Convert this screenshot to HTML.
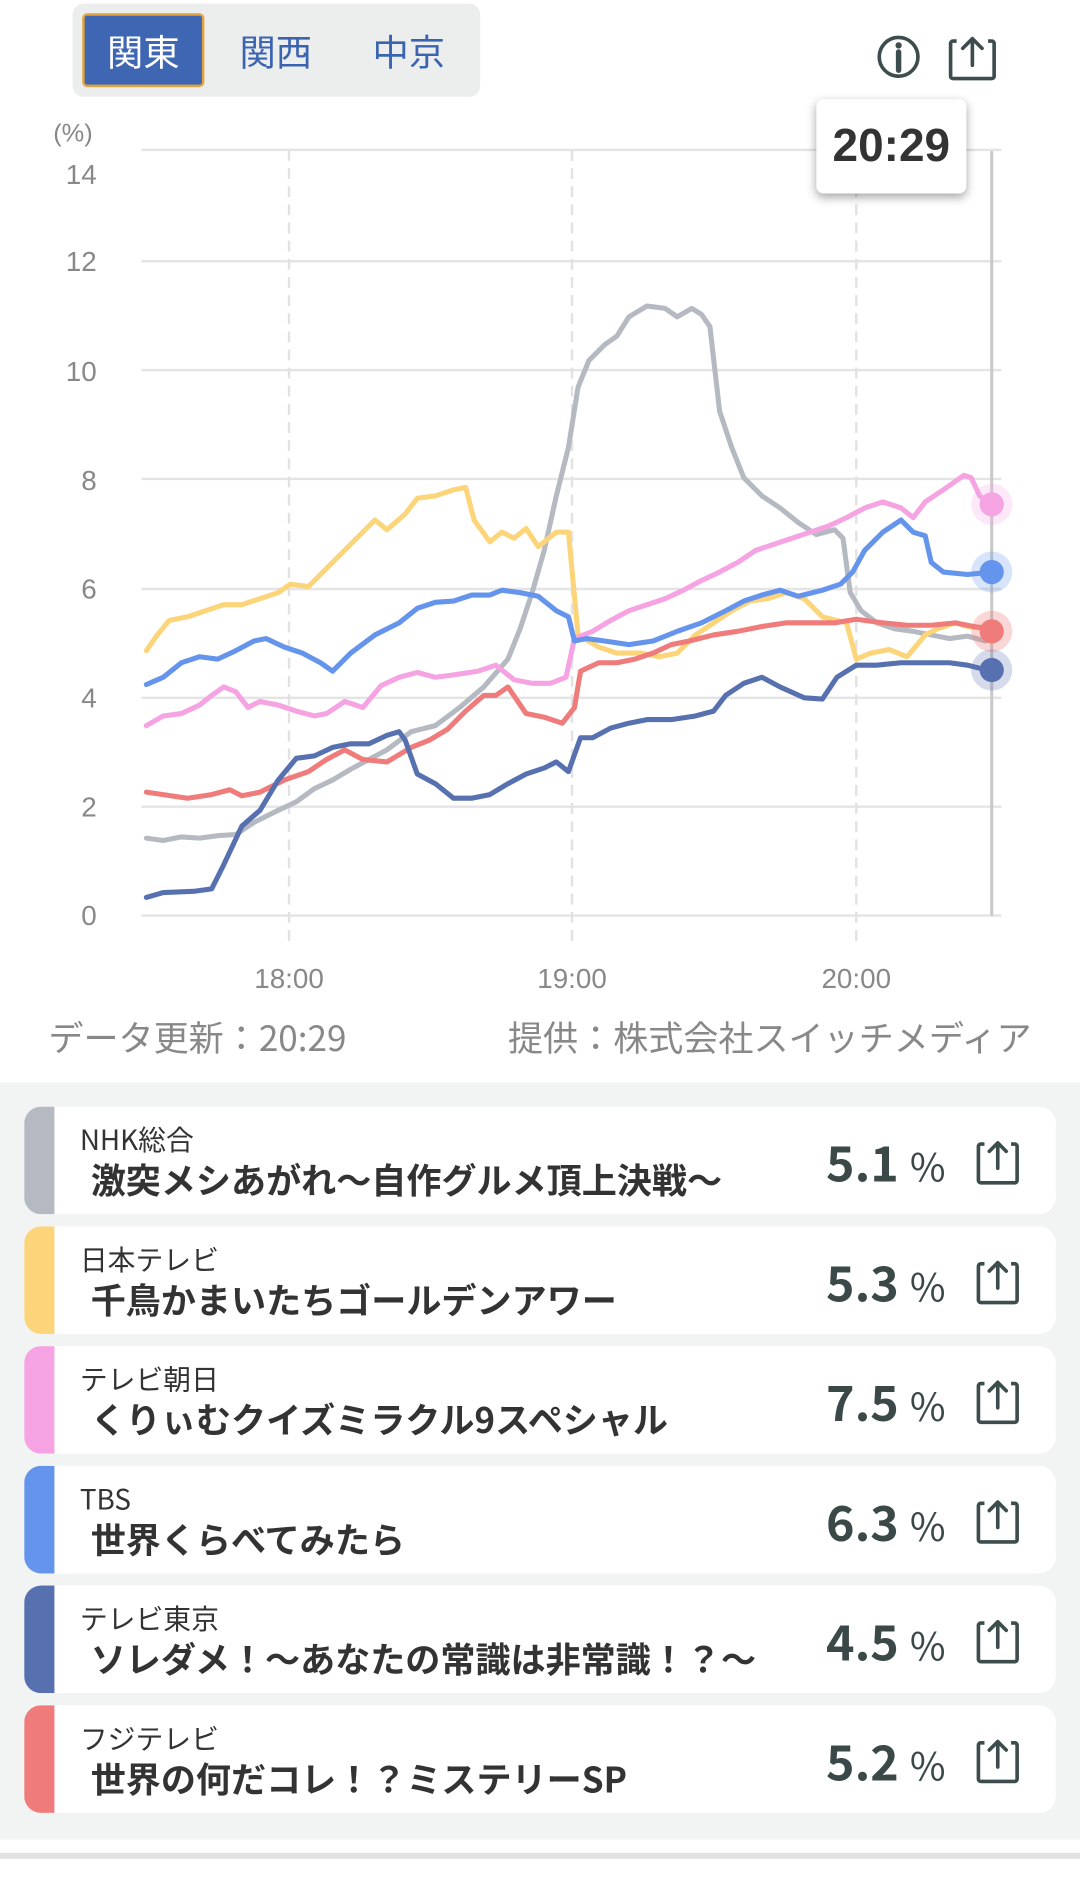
<!DOCTYPE html>
<html><head><meta charset="utf-8">
<style>
*{margin:0;padding:0;box-sizing:border-box}
html,body{width:1080px;height:1896px;overflow:hidden;background:#fff}
#w{position:absolute;left:0;top:0;width:893px;height:1568px;transform:scale(1.20941);transform-origin:0 0;font-family:"Liberation Sans","Noto Sans CJK JP",sans-serif}
.a{position:absolute;white-space:nowrap}
.tabs{left:60px;top:3px;width:337px;height:77px;background:#eceeee;border-radius:9px}
.act{left:68px;top:11px;width:101px;height:61px;background:#3e66b3;border:2px solid #e3a23a;border-radius:4px;color:#fff;font-size:30px;line-height:57px;text-align:center;font-family:"Noto Sans CJK JP",sans-serif}
.tb{top:11px;height:61px;line-height:61px;font-size:30px;color:#3b64b0;width:100px;text-align:center;font-family:"Noto Sans CJK JP",sans-serif}
.yl{left:20px;width:60px;text-align:right;font-size:23px;color:#888;line-height:24px}
.xl{font-size:23px;color:#888;width:100px;text-align:center;line-height:24px}
.ft{font-size:29px;color:#888;line-height:34px;font-family:"Noto Sans CJK JP",sans-serif}
.card{left:20px;width:853px;height:89px;background:#fff;border-radius:14px;overflow:hidden}
.bar{position:absolute;left:0;top:0;width:25px;height:100%}
.ch{position:absolute;left:46px;top:12px;font-size:23px;color:#333;line-height:28px;font-family:"Noto Sans CJK JP",sans-serif}
.ti{position:absolute;left:55px;top:42px;font-size:29px;font-weight:bold;color:#333;line-height:36px;font-family:"Noto Sans CJK JP",sans-serif}
.val{position:absolute;left:663px;top:22px;font-size:40px;font-weight:bold;color:#3b4848;line-height:46px;font-family:"Noto Sans CJK JP",sans-serif}
.val span{font-size:32px;font-weight:normal}
.sh{position:absolute;left:785px;top:27px}
</style></head><body>
<div id="w">
<div class="a tabs"></div>
<div class="a act">関東</div>
<div class="a tb" style="left:178px">関西</div>
<div class="a tb" style="left:288px">中京</div>
<svg class="a" style="left:0;top:0" width="893" height="1568">
<circle cx="743" cy="47" r="16" fill="none" stroke="#3d4c4c" stroke-width="3"/>
<circle cx="743" cy="37.5" r="2.6" fill="#3d4c4c"/>
<line x1="743" y1="43" x2="743" y2="58" stroke="#3d4c4c" stroke-width="4.5" stroke-linecap="round"/>
<path d="M791 34 h-3 a2 2 0 0 0 -2 2 v27 a2 2 0 0 0 2 2 h32 a2 2 0 0 0 2 -2 v-27 a2 2 0 0 0 -2 -2 h-3" fill="none" stroke="#3d4c4c" stroke-width="3"/>
<path d="M804 54 V32 M796 40 L804 32 L812 40" fill="none" stroke="#3d4c4c" stroke-width="3" stroke-linecap="round" stroke-linejoin="round"/>
<g stroke="#e4e4e4" stroke-width="2">
<line x1="117" y1="124" x2="828" y2="124"/><line x1="117" y1="216" x2="828" y2="216"/>
<line x1="117" y1="306" x2="828" y2="306"/><line x1="117" y1="396" x2="828" y2="396"/>
<line x1="117" y1="487" x2="828" y2="487"/><line x1="117" y1="577" x2="828" y2="577"/>
<line x1="117" y1="667" x2="828" y2="667"/><line x1="117" y1="757" x2="828" y2="757"/>
</g>
<g stroke="#e2e2e2" stroke-width="2" stroke-dasharray="9,6">
<line x1="239" y1="124" x2="239" y2="780"/><line x1="473" y1="124" x2="473" y2="780"/><line x1="708" y1="124" x2="708" y2="780"/>
</g>
<line x1="820" y1="125" x2="820" y2="757" stroke="#c8c8c8" stroke-width="2.5"/>
<g fill="none" stroke-width="4.2" stroke-linejoin="round" stroke-linecap="round">
<polyline stroke="#b5bac2" points="121,693 135,695 150,692 165,693 180,691 195,690 210,680 230,670 245,663 260,652 275,645 290,636 305,628 320,620 340,605 360,600 380,585 400,568 420,545 430,520 440,490 450,455 460,410 470,370 478,320 487,298 500,285 510,278 520,262 535,253 550,255 560,262 572,255 580,260 587,270 595,340 605,370 615,395 630,410 645,420 660,432 675,442 690,438 697,445 703,490 712,505 725,515 740,520 755,522 770,525 785,528 800,526 815,530"/>
<polyline stroke="#fcd57a" points="121,538 130,525 140,513 155,510 170,505 185,500 200,500 215,495 230,490 240,483 255,485 270,470 285,455 300,440 310,430 320,438 335,425 345,412 360,410 375,405 385,403 392,430 405,448 415,440 425,445 435,437 445,452 460,440 470,440 478,525 495,535 510,540 530,540 545,543 560,540 575,525 590,515 605,505 620,497 635,495 650,490 665,495 680,510 700,515 708,545 720,540 735,537 750,543 765,525 775,520 790,515 800,518 815,520"/>
<polyline stroke="#f5a3e2" points="121,600 135,592 150,590 165,583 175,575 185,568 195,572 205,585 215,580 230,583 245,588 260,592 270,590 285,580 300,585 315,567 330,560 345,556 360,560 375,558 395,555 410,550 425,562 440,565 455,565 468,560 475,528 490,522 505,513 520,505 535,500 550,495 565,488 580,480 595,473 610,465 625,455 640,450 655,445 670,440 685,435 700,428 715,420 730,415 745,420 755,428 765,415 780,405 790,398 797,393 803,395 810,410 820,417"/>
<polyline stroke="#6594ec" points="121,566 135,560 150,548 165,543 180,545 195,538 210,530 220,528 235,535 250,540 265,548 275,555 290,540 310,525 330,515 345,503 360,498 375,497 390,492 405,492 415,488 430,490 445,493 460,505 470,510 475,530 485,528 500,530 520,533 540,530 560,522 580,515 600,505 615,497 630,492 645,488 660,493 680,488 695,483 705,473 715,455 730,440 745,430 755,440 765,443 770,465 780,473 800,475 820,473"/>
<polyline stroke="#f07b7b" points="121,655 135,657 155,660 175,657 190,653 200,658 215,655 235,645 255,638 270,628 285,620 300,628 320,630 340,618 355,612 370,603 385,588 400,575 410,575 420,568 435,590 450,593 465,598 475,585 480,555 495,548 510,548 525,545 540,540 555,533 570,530 590,525 610,522 630,518 650,515 670,515 690,515 708,512 730,515 750,517 770,517 790,515 805,518 820,520"/>
<polyline stroke="#5770b0" points="121,742 135,738 160,737 175,735 185,715 200,683 215,670 230,645 245,627 260,625 275,618 290,615 305,615 320,608 330,605 335,612 345,640 360,648 375,660 390,660 405,657 420,648 435,640 450,635 460,630 470,638 480,610 490,610 505,602 520,598 535,595 555,595 575,592 590,588 600,575 615,565 630,560 645,568 665,577 680,578 692,560 708,550 725,550 745,548 765,548 785,548 800,550 820,555"/>
</g>
<circle cx="820" cy="417" r="17" fill="#f5a3e2" opacity="0.25"/><circle cx="820" cy="417" r="10" fill="#f5a3e2"/>
<circle cx="820" cy="473" r="17" fill="#6594ec" opacity="0.25"/><circle cx="820" cy="473" r="10" fill="#6594ec"/>
<circle cx="820" cy="522" r="17" fill="#f07b7b" opacity="0.3"/><circle cx="820" cy="522" r="10" fill="#f07b7b"/>
<circle cx="820" cy="554" r="17" fill="#5770b0" opacity="0.25"/><circle cx="820" cy="554" r="10" fill="#5770b0"/>
</svg>
<div class="a" style="left:675px;top:82px;width:124px;height:78px;background:#fff;border-radius:6px;box-shadow:0 3px 8px rgba(0,0,0,0.35);font-size:38px;font-weight:bold;color:#333;line-height:78px;text-align:center">20:29</div>
<div class="a" style="left:44px;top:99px;font-size:21px;color:#888">(%)</div>
<div class="a yl" style="top:132px">14</div>
<div class="a yl" style="top:204px">12</div>
<div class="a yl" style="top:295px">10</div>
<div class="a yl" style="top:385px">8</div>
<div class="a yl" style="top:475px">6</div>
<div class="a yl" style="top:565px">4</div>
<div class="a yl" style="top:655px">2</div>
<div class="a yl" style="top:745px">0</div>
<div class="a xl" style="left:189px;top:797px">18:00</div>
<div class="a xl" style="left:423px;top:797px">19:00</div>
<div class="a xl" style="left:658px;top:797px">20:00</div>
<div class="a ft" style="left:40px;top:840px">データ更新：20:29</div>
<div class="a ft" style="right:40px;top:840px">提供：株式会社スイッチメディア</div>
<div class="a" style="left:0;top:895px;width:893px;height:626px;background:#f2f3f3"></div>
<div class="a" style="left:0;top:1532px;width:893px;height:5px;background:#e2e2e2"></div>

<div class="a card" style="top:915px"><div class="bar" style="background:#b5bac2"></div><div class="ch">NHK総合</div><div class="ti">激突メシあがれ～自作グルメ頂上決戦～</div><div class="val">5.1 <span>%</span></div><svg class="sh" width="40" height="40"><path d="M9 4h-3a2 2 0 0 0-2 2v28a2 2 0 0 0 2 2h28a2 2 0 0 0 2-2v-28a2 2 0 0 0-2-2h-3" fill="none" stroke="#3d4c4c" stroke-width="3"/><path d="M20 24V3M13 10L20 3L27 10" fill="none" stroke="#3d4c4c" stroke-width="3" stroke-linecap="round" stroke-linejoin="round"/></svg></div>
<div class="a card" style="top:1014px"><div class="bar" style="background:#fcd57a"></div><div class="ch">日本テレビ</div><div class="ti">千鳥かまいたちゴールデンアワー</div><div class="val">5.3 <span>%</span></div><svg class="sh" width="40" height="40"><path d="M9 4h-3a2 2 0 0 0-2 2v28a2 2 0 0 0 2 2h28a2 2 0 0 0 2-2v-28a2 2 0 0 0-2-2h-3" fill="none" stroke="#3d4c4c" stroke-width="3"/><path d="M20 24V3M13 10L20 3L27 10" fill="none" stroke="#3d4c4c" stroke-width="3" stroke-linecap="round" stroke-linejoin="round"/></svg></div>
<div class="a card" style="top:1113px"><div class="bar" style="background:#f5a3e2"></div><div class="ch">テレビ朝日</div><div class="ti">くりぃむクイズミラクル9スペシャル</div><div class="val">7.5 <span>%</span></div><svg class="sh" width="40" height="40"><path d="M9 4h-3a2 2 0 0 0-2 2v28a2 2 0 0 0 2 2h28a2 2 0 0 0 2-2v-28a2 2 0 0 0-2-2h-3" fill="none" stroke="#3d4c4c" stroke-width="3"/><path d="M20 24V3M13 10L20 3L27 10" fill="none" stroke="#3d4c4c" stroke-width="3" stroke-linecap="round" stroke-linejoin="round"/></svg></div>
<div class="a card" style="top:1212px"><div class="bar" style="background:#6594ec"></div><div class="ch">TBS</div><div class="ti">世界くらべてみたら</div><div class="val">6.3 <span>%</span></div><svg class="sh" width="40" height="40"><path d="M9 4h-3a2 2 0 0 0-2 2v28a2 2 0 0 0 2 2h28a2 2 0 0 0 2-2v-28a2 2 0 0 0-2-2h-3" fill="none" stroke="#3d4c4c" stroke-width="3"/><path d="M20 24V3M13 10L20 3L27 10" fill="none" stroke="#3d4c4c" stroke-width="3" stroke-linecap="round" stroke-linejoin="round"/></svg></div>
<div class="a card" style="top:1311px"><div class="bar" style="background:#5770b0"></div><div class="ch">テレビ東京</div><div class="ti">ソレダメ！～あなたの常識は非常識！？～</div><div class="val">4.5 <span>%</span></div><svg class="sh" width="40" height="40"><path d="M9 4h-3a2 2 0 0 0-2 2v28a2 2 0 0 0 2 2h28a2 2 0 0 0 2-2v-28a2 2 0 0 0-2-2h-3" fill="none" stroke="#3d4c4c" stroke-width="3"/><path d="M20 24V3M13 10L20 3L27 10" fill="none" stroke="#3d4c4c" stroke-width="3" stroke-linecap="round" stroke-linejoin="round"/></svg></div>
<div class="a card" style="top:1410px"><div class="bar" style="background:#f07b7b"></div><div class="ch">フジテレビ</div><div class="ti">世界の何だコレ！？ミステリーSP</div><div class="val">5.2 <span>%</span></div><svg class="sh" width="40" height="40"><path d="M9 4h-3a2 2 0 0 0-2 2v28a2 2 0 0 0 2 2h28a2 2 0 0 0 2-2v-28a2 2 0 0 0-2-2h-3" fill="none" stroke="#3d4c4c" stroke-width="3"/><path d="M20 24V3M13 10L20 3L27 10" fill="none" stroke="#3d4c4c" stroke-width="3" stroke-linecap="round" stroke-linejoin="round"/></svg></div>
</div>
</body></html>
